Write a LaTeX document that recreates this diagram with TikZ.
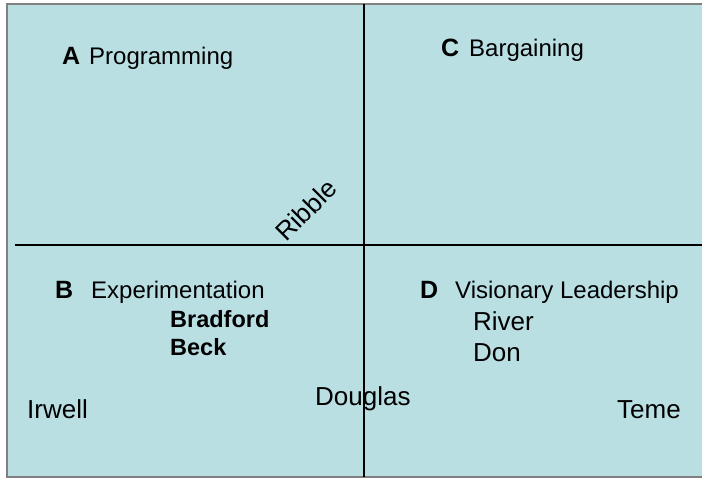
\documentclass[tikz,border=0pt]{standalone}
\usepackage{fontspec}
\setmainfont{Liberation Sans}
\usepackage{tikz}
\usetikzlibrary{positioning}
\definecolor{pale}{HTML}{B9DFE3}

\tikzset{
  lbl/.style={anchor=base west, inner sep=0pt, font=\fontsize{24}{28}\selectfont},
  big/.style={anchor=base west, inner sep=0pt, font=\fontsize{26}{30}\selectfont},
  key/.style={lbl, font=\fontsize{25}{29}\selectfont\bfseries},
  bold/.style={lbl, font=\fontsize{23.5}{28}\selectfont\bfseries}
}

\begin{document}
\begin{tikzpicture}[x=1pt, y=-1pt]
\useasboundingbox (0,0) rectangle (702,479);
\fill[pale] (7,4) rectangle (710,477);
\draw[gray, line width=1.5pt] (710,4) -- (7,4) -- (7,477) -- (710,477);

% the two axes
\coordinate (left) at (15,245);
\coordinate (right) at (710,245);
\coordinate (top) at (364,4);
\coordinate (bottom) at (364,477);
\draw[line width=1.3pt] (left)--(right);
\draw[line width=1.3pt] (top)--(bottom);

% quadrant headings
\node[key] (A) at (62,64) {A};
\node[lbl] (prog) at (89,64) {Programming};
\node[key] (C) at (441,56) {C};
\node[lbl] (barg) at (469,56) {Bargaining};
\node[key] (B) at (55,298) {B};
\node[lbl] (expt) at (91,298) {Experimentation};
\node[key] (D) at (420,298) {D};
\node[lbl] (vis) at (455,298) {Visionary Leadership};

% rivers
\node[bold] (brad) at (170,327) {Bradford};
\node[bold] (beck) at (170,355) {Beck};
\node[big] (river) at (473,330) {River};
\node[big] (don) at (473,361) {Don};
\node[big] (irwell) at (27,418) {Irwell};
\node[big] (douglas) at (315,405) {Douglas};
\node[big] (teme) at (617,418) {Teme};
\node[big, anchor=center, rotate=45] (ribble) at (306,210) {Ribble};
\end{tikzpicture}
\end{document}
